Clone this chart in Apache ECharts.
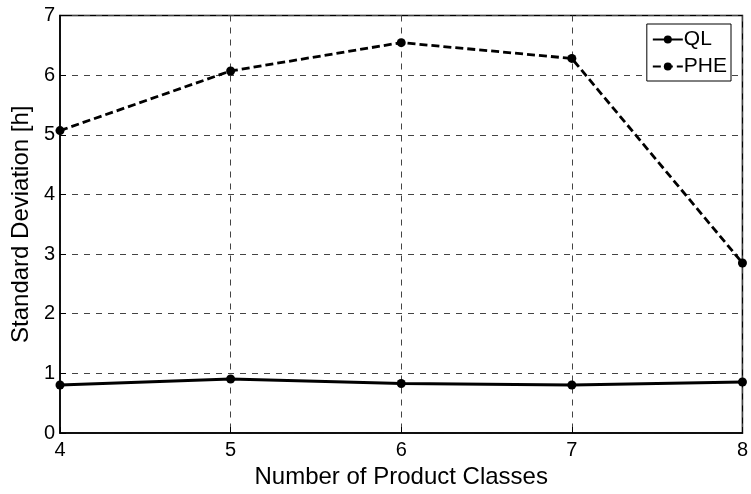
<!DOCTYPE html>
<html>
<head>
<meta charset="utf-8">
<script src="https://cdn.jsdelivr.net/npm/echarts@6/dist/echarts.min.js"></script>
<style>
  html, body { margin: 0; padding: 0; background: #fff; }
  #chart { width: 751px; height: 494px; }
</style>
</head>
<body>
<div id="chart"></div>
<script>
// Number of product classes on the x axis
const classes = [4, 5, 6, 7, 8];
// Standard deviation in hours for each method
const qlValues = [0.805, 0.905, 0.83, 0.805, 0.855];
const pheValues = [5.07, 6.07, 6.545, 6.28, 2.85];
const yTicks = [0, 1, 2, 3, 4, 5, 6, 7];

const font = 'Liberation Sans, Arial, Helvetica, sans-serif';
const chart = echarts.init(document.getElementById('chart'));

const pairs = (xs, ys) => xs.map((x, i) => [x, ys[i]]);

chart.setOption({
  animation: false,
  backgroundColor: '#ffffff',
  grid: {
    left: 60, right: 6, top: 15.5, bottom: 59,
    show: true, borderColor: '#000', borderWidth: 1.5
  },
  legend: {
    right: 20, top: 24,
    orient: 'vertical',
    backgroundColor: '#fff',
    borderColor: '#000',
    borderWidth: 1,
    borderRadius: 0,
    padding: [5, 4, 4, 5],
    itemGap: 6,
    itemWidth: 30,
    itemHeight: 10,
    textStyle: { fontFamily: font, fontSize: 21, color: '#000', padding: [0, 0, 0, -4] },
    data: ['QL', 'PHE']
  },
  xAxis: {
    type: 'value',
    min: classes[0], max: classes[classes.length - 1], interval: 1,
    name: 'Number of Product Classes',
    nameLocation: 'middle',
    nameGap: 32,
    nameTextStyle: { fontFamily: font, fontSize: 24, color: '#000' },
    axisLine: { show: true, lineStyle: { color: '#000', width: 1.5 } },
    axisTick: { show: true, inside: true, length: 6, lineStyle: { color: '#000' } },
    axisLabel: { fontFamily: font, fontSize: 20, color: '#000', margin: 7 },
    splitLine: { show: true, lineStyle: { color: '#444', width: 1, type: [6, 6] } }
  },
  yAxis: {
    type: 'value',
    min: yTicks[0], max: yTicks[yTicks.length - 1], interval: 1,
    name: 'Standard Deviation [h]',
    nameLocation: 'middle',
    nameGap: 26,
    nameTextStyle: { fontFamily: font, fontSize: 24, color: '#000' },
    axisLine: { show: true, lineStyle: { color: '#000', width: 1.5 } },
    axisTick: { show: true, inside: true, length: 6, lineStyle: { color: '#000' } },
    axisLabel: { fontFamily: font, fontSize: 20, color: '#000', margin: 5 },
    splitLine: { show: true, lineStyle: { color: '#444', width: 1, type: [6, 6] } }
  },
  series: [
    {
      name: 'QL',
      type: 'line',
      data: pairs(classes, qlValues),
      symbol: 'circle',
      symbolSize: 9,
      itemStyle: { color: '#000' },
      lineStyle: { color: '#000', width: 2.8, type: 'solid' }
    },
    {
      name: 'PHE',
      type: 'line',
      data: pairs(classes, pheValues),
      symbol: 'circle',
      symbolSize: 9,
      itemStyle: { color: '#000' },
      lineStyle: { color: '#000', width: 2.8, type: [8, 4] }
    }
  ]
});
</script>
</body>
</html>
